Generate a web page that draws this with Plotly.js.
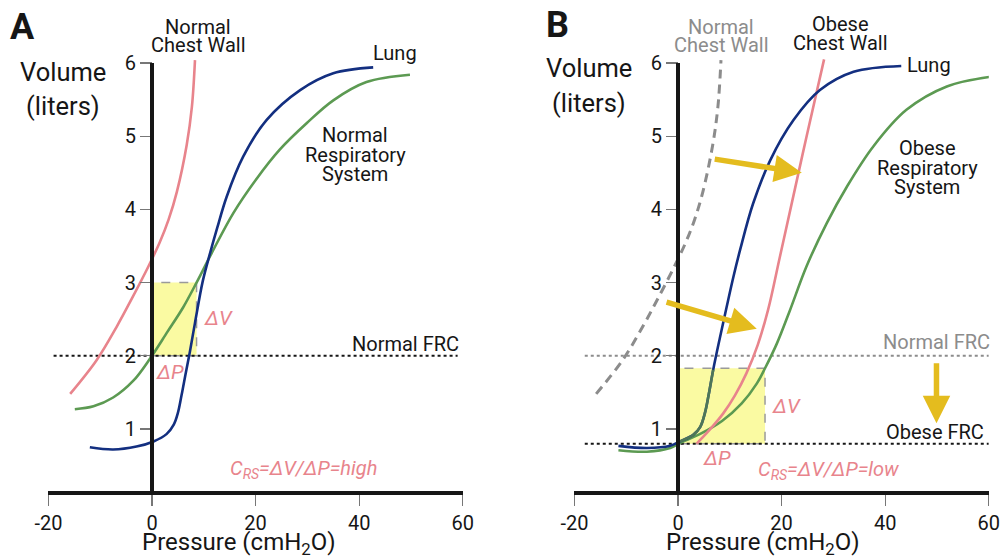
<!DOCTYPE html>
<html>
<head>
<meta charset="utf-8">
<script src="https://cdn.plot.ly/plotly-3.0.1.min.js"></script>
<style>html,body{margin:0;padding:0;background:#fff;}#chart{width:1003px;height:560px;}</style>
</head>
<body>
<div id="chart"></div>
<script>
// ---------- DATA ----------
const xTicks = [-20, 0, 20, 40, 60];
const xTickText = ['-20', '0', '20', '40', '60'];
const yTicks = [1, 2, 3, 4, 5, 6];
const yTickText = ['1', '2', '3', '4', '5', '6'];
const xTitle = 'Pressure (cmH<sub>2</sub>O)';

// Panel A
const chestP = [-15.8, -10.7, -6.8, -3.9, -0.7, 1.5, 3.2, 4.8, 6.7, 7.7, 8.3];
const chestV = [1.48, 1.94, 2.40, 2.78, 3.22, 3.55, 3.86, 4.24, 4.88, 5.40, 6.04];
const lungP = [-12.0, -7.5, -3.0, 0.3, 2.8, 4.2, 5.0, 5.7, 6.4, 7.3, 8.3, 9.8, 11.2, 12.6, 14.4, 17.6, 22.1, 28.6, 35.0, 42.7];
const lungV = [0.75, 0.72, 0.76, 0.83, 0.93, 1.06, 1.22, 1.46, 1.72, 2.05, 2.45, 3.02, 3.40, 3.75, 4.17, 4.72, 5.22, 5.63, 5.86, 5.94];
const nrsP = [-14.9, -11.3, -7.5, -3.6, -0.4, 3.0, 6.0, 8.6, 11.5, 15.7, 20.2, 24.7, 29.9, 35.0, 41.4, 49.8];
const nrsV = [1.27, 1.31, 1.43, 1.66, 1.96, 2.33, 2.66, 3.00, 3.40, 3.95, 4.42, 4.82, 5.18, 5.49, 5.74, 5.84];
const frcNormal = 2.0;
const frcSpanA = [-19, 59];
const boxAP = [0, 8.6];
const boxAV = [2.0, 3.0];

// Panel B
const lungBP = [-11.5, -6.0, -1.5, 0.4, 2.95, 4.3, 5.2, 5.9, 6.8, 8.1, 9.4, 10.7, 12.0, 14.5, 17.8, 22.3, 27.4, 33.9, 43.1];
const lungBV = [0.77, 0.74, 0.77, 0.83, 0.92, 1.03, 1.22, 1.46, 1.81, 2.25, 2.67, 3.08, 3.45, 4.08, 4.67, 5.22, 5.63, 5.88, 5.96];
const overlayP = [0.4, 2.95, 4.3, 5.2, 5.9, 6.8];
const overlayV = [0.83, 0.92, 1.03, 1.22, 1.46, 1.81];
const ocwP = [3.6, 6.0, 8.7, 11.0, 13.2, 15.4, 17.4, 19.6, 21.7, 24.8, 28.2];
const ocwV = [0.80, 0.98, 1.21, 1.46, 1.76, 2.15, 2.63, 3.33, 4.00, 4.99, 6.05];
const orsP = [-11.5, -6.0, -1.5, 0.4, 4.2, 8.5, 12.3, 15.2, 16.8, 19.1, 21.6, 24.8, 28.7, 32.6, 37.7, 44.1, 51.9, 60.2];
const orsV = [0.71, 0.69, 0.74, 0.81, 0.93, 1.11, 1.35, 1.62, 1.83, 2.17, 2.62, 3.22, 3.81, 4.31, 4.86, 5.36, 5.68, 5.81];
const frcObese = 0.8;
const frcSpanB = [-18, 60];
const boxBP = [0, 16.8];
const boxBV = [0.8, 1.83];
// arrows [tailP, tailV, headP, headV]
const arrow1 = [6.8, 4.69, 23.9, 4.50];
const arrow2 = [-2.5, 2.74, 15.2, 2.37];
const arrow3 = [49.9, 1.92, 49.9, 1.08];

// ---------- STYLE ----------
const W = 1003, H = 560;
const FONT = 'Roboto, "Open Sans", sans-serif';
const PINK = '#e8848c', BLUE = '#132f80', GREEN = '#5c9a52', GRAY = '#8c8c8c', GOLD = '#e4bc1e', INK = '#161616';
const yMin = 0.153, yMax = 6.1;

function line(x, y, color, xa, ya, extra) {
  return Object.assign({x: x, y: y, xaxis: xa, yaxis: ya, type: 'scatter', mode: 'lines',
    line: {color: color, width: 2.6, shape: 'spline', smoothing: 1}, hoverinfo: 'skip'}, extra || {});
}

const traces = [
  // A
  line(frcSpanA, [frcNormal, frcNormal], INK, 'x', 'y', {line: {color: INK, width: 2, dash: 'dot'}}),
  line(chestP, chestV, PINK, 'x', 'y'),
  line(nrsP, nrsV, GREEN, 'x', 'y'),
  line(lungP, lungV, BLUE, 'x', 'y'),
  // B
  line(frcSpanB, [frcNormal, frcNormal], GRAY, 'x2', 'y2', {line: {color: GRAY, width: 2, dash: 'dot'}}),
  line(frcSpanB, [frcObese, frcObese], INK, 'x2', 'y2', {line: {color: INK, width: 2, dash: 'dot'}}),
  line(chestP, chestV, GRAY, 'x2', 'y2', {line: {color: GRAY, width: 3, dash: '9px,6px', shape: 'spline'}}),
  line(orsP, orsV, GREEN, 'x2', 'y2'),
  line(ocwP, ocwV, PINK, 'x2', 'y2'),
  line(lungBP, lungBV, BLUE, 'x2', 'y2'),
  line(overlayP, overlayV, 'rgba(88,130,80,0.85)', 'x2', 'y2')
];

function px(x) { return x / W; }
function py(y) { return 1 - y / H; }
function txt(text, x, y, size, color, opts) {
  return Object.assign({xref: 'paper', yref: 'paper', x: px(x), y: py(y), text: text, showarrow: false,
    xanchor: 'center', yanchor: 'middle', font: {family: FONT, size: size, color: color}}, opts || {});
}
function arrow(a, xa, ya) {
  return {xref: xa, yref: ya, axref: xa, ayref: ya, x: a[2], y: a[3], ax: a[0], ay: a[1], text: '',
    showarrow: true, arrowhead: 2, arrowsize: 1, arrowwidth: 5.5, arrowcolor: GOLD, standoff: 0, startstandoff: 0};
}

const LS = 20; // label font size
const annotations = [
  txt('<b>A</b>', 22, 27, 36, INK),
  txt('<b>B</b>', 557, 25, 36, INK),
  // axis titles
  txt(xTitle, 239, 560, 24, INK, {yanchor: 'bottom', borderpad: 0}),
  txt(xTitle, 763, 560, 24, INK, {yanchor: 'bottom', borderpad: 0}),
  // A labels
  txt('Volume', 63, 72, 25.5, INK), txt('(liters)', 63, 106, 25.5, INK),
  txt('Normal', 198, 27, LS, INK), txt('Chest Wall', 198, 45, LS, INK),
  txt('Lung', 395, 53, LS, INK),
  txt('Normal', 355, 135, LS, INK), txt('Respiratory', 355, 155, LS, INK), txt('System', 355, 174, LS, INK),
  txt('Normal FRC', 405, 344, LS, INK),
  txt('<i>ΔV</i>', 218, 318, 20.5, PINK),
  txt('<i>ΔP</i>', 170, 372, 20.5, PINK),
  txt('<i>C<sub>RS</sub>=ΔV/ΔP=high</i>', 303, 469, 20, PINK),
  // B labels
  txt('Volume', 589, 68, 25.5, INK), txt('(liters)', 589, 103, 25.5, INK),
  txt('Normal', 721, 27, LS, GRAY), txt('Chest Wall', 721, 45, LS, GRAY),
  txt('Obese', 840, 24, LS, INK), txt('Chest Wall', 840, 43, LS, INK),
  txt('Lung', 929, 65, LS, INK),
  txt('Obese', 927, 148, LS, INK), txt('Respiratory', 927, 168, LS, INK), txt('System', 927, 187, LS, INK),
  txt('Normal FRC', 936, 342, LS, GRAY),
  txt('Obese FRC', 935, 432, LS, INK),
  txt('<i>ΔV</i>', 786, 406, 20.5, PINK),
  txt('<i>ΔP</i>', 717, 458, 20.5, PINK),
  txt('<i>C<sub>RS</sub>=ΔV/ΔP=low</i>', 828, 470, 20, PINK),
  arrow(arrow1, 'x2', 'y2'), arrow(arrow2, 'x2', 'y2'), arrow(arrow3, 'x2', 'y2')
];

const shapes = [
  {type: 'rect', xref: 'x', yref: 'y', x0: boxAP[0], x1: boxAP[1], y0: boxAV[0], y1: boxAV[1],
    fillcolor: '#fafaa2', line: {color: '#9a9a9a', width: 1.5, dash: 'dash'}, layer: 'below'},
  {type: 'rect', xref: 'x2', yref: 'y2', x0: boxBP[0], x1: boxBP[1], y0: boxBV[0], y1: boxBV[1],
    fillcolor: '#fafaa2', line: {color: '#9a9a9a', width: 1.5, dash: 'dash'}, layer: 'below'},
  {type: 'line', xref: 'x', yref: 'y', x0: 0, x1: 0, y0: yMin, y1: 6, line: {color: INK, width: 4}, layer: 'above'},
  {type: 'line', xref: 'x2', yref: 'y2', x0: 0, x1: 0, y0: yMin, y1: 6, line: {color: INK, width: 4}, layer: 'above'}
];

// pixel geometry
const x0A = 152, x0B = 678, ppu = 5.18;
const domA = [px(x0A - 20 * ppu), px(x0A + 60 * ppu)];
const domB = [px(x0B - 20 * ppu), px(x0B + 60 * ppu)];
const yDom = [(H - 491) / H, (H - (491 - (yMax - yMin) * 73.2)) / H];

function xaxis(dom, anchor) {
  return {domain: dom, anchor: anchor, range: [-20, 60], tickvals: xTicks, ticktext: xTickText,
    showline: true, linewidth: 4, linecolor: INK, ticks: 'outside', ticklen: 11, tickwidth: 1.2, tickcolor: '#777',
    showgrid: false, zeroline: false, tickfont: {family: FONT, size: 20, color: INK},
    title: {text: ''}, fixedrange: true};
}
function yaxis(pos) {
  return {domain: yDom, anchor: 'free', position: pos, range: [yMin, yMax], tickvals: yTicks, ticktext: yTickText,
    showline: false, ticks: 'outside', ticklen: 12, tickwidth: 1.2, tickcolor: '#777', showgrid: false, zeroline: false,
    tickfont: {family: FONT, size: 20, color: INK}, title: {text: ''}, fixedrange: true};
}

const layout = {
  width: W, height: H, margin: {l: 0, r: 0, t: 0, b: 0}, paper_bgcolor: '#fff', plot_bgcolor: 'rgba(0,0,0,0)',
  showlegend: false, font: {family: FONT},
  xaxis: xaxis(domA, 'y'), yaxis: yaxis(px(x0A)),
  xaxis2: xaxis(domB, 'y2'), yaxis2: yaxis(px(x0B)),
  annotations: annotations, shapes: shapes
};

Plotly.newPlot('chart', traces, layout, {displayModeBar: false, staticPlot: true});
</script>
</body>
</html>
